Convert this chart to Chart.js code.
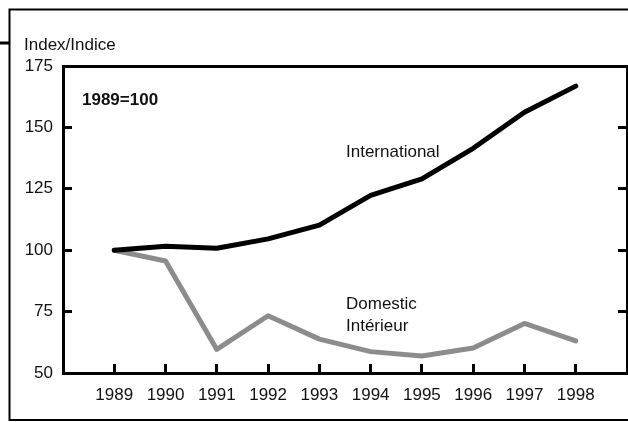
<!DOCTYPE html>
<html><head><meta charset="utf-8">
<script src="https://cdn.jsdelivr.net/npm/chart.js@4"></script>
<style>html,body{margin:0;padding:0;background:#fff;}#wrap{width:628px;height:422px;}</style>
</head><body><div id="wrap"><canvas id="c" width="628" height="422"></canvas></div>
<script>
const years = [1989, 1990, 1991, 1992, 1993, 1994, 1995, 1996, 1997, 1998];
const international = [100, 101.6, 100.8, 104.6, 110.2, 122.3, 129.0, 141.5, 156.2, 166.8];
const domestic = [100, 95.6, 59.6, 73.3, 63.8, 58.7, 56.9, 60.2, 70.2, 63.1];
const yTicks = [50, 75, 100, 125, 150, 175];
const seriesNames = ['International', 'Domestic'];
const domesticLabel = ['Domestic', 'Intérieur'];
const unitLabel = 'Index/Indice';
const baseLabel = '1989=100';

const FONT = '"Liberation Sans", Arial, sans-serif';
const TXT = '#111';

const framePlugin = {
  id: 'frame',
  beforeDraw(chart) {
    const ctx = chart.ctx;
    ctx.save();
    ctx.fillStyle = '#fff';
    ctx.fillRect(0, 0, chart.width, chart.height);
    ctx.strokeStyle = '#000';
    ctx.lineWidth = 2;
    ctx.beginPath();
    ctx.moveTo(640, 9.5);
    ctx.lineTo(9.5, 9.5);
    ctx.lineTo(9.5, 420);
    ctx.lineTo(640, 420);
    ctx.stroke();
    ctx.lineWidth = 3;
    ctx.beginPath();
    ctx.moveTo(0, 43);
    ctx.lineTo(10, 43);
    ctx.stroke();
    ctx.restore();
  },
  afterDatasetsDraw(chart) {
    const ctx = chart.ctx;
    const a = chart.chartArea;
    ctx.save();
    ctx.fillStyle = TXT;
    ctx.textAlign = 'left';
    ctx.textBaseline = 'middle';
    ctx.font = '17px ' + FONT;
    ctx.fillText(unitLabel, 24, 45);
    ctx.fillText(seriesNames[0], 346, 152);
    ctx.fillText(domesticLabel[0], 346, 304);
    ctx.fillText(domesticLabel[1], 346, 326);
    ctx.font = 'bold 17px ' + FONT;
    ctx.fillText(baseLabel, a.left + 19, 100);
    ctx.restore();
  }
};

new Chart(document.getElementById('c'), {
  type: 'line',
  data: {
    datasets: [
      {
        label: seriesNames[0],
        data: years.map((y, i) => ({x: y, y: international[i]})),
        borderColor: '#000', borderWidth: 5, pointRadius: 0,
        borderCapStyle: 'round', borderJoinStyle: 'round', tension: 0, fill: false
      },
      {
        label: seriesNames[1],
        data: years.map((y, i) => ({x: y, y: domestic[i]})),
        borderColor: '#8c8c8c', borderWidth: 5, pointRadius: 0,
        borderCapStyle: 'round', borderJoinStyle: 'round', tension: 0, fill: false
      }
    ]
  },
  options: {
    responsive: false,
    animation: false,
    devicePixelRatio: 1,
    layout: {padding: {left: 0, top: 66, right: 1, bottom: 0}},
    plugins: {legend: {display: false}, tooltip: {enabled: false}},
    scales: {
      x: {
        type: 'linear', position: 'bottom', min: 1988, max: 1999,
        afterBuildTicks: s => { s.ticks = years.map(v => ({value: v})); },
        afterFit: s => { s.height = 49; },
        ticks: {font: {size: 17, family: FONT}, color: TXT, padding: 21, maxRotation: 0, autoSkip: false,
                callback: v => String(v)},
        grid: {drawOnChartArea: false, drawTicks: true, tickLength: -9, color: '#000', lineWidth: 3},
        border: {display: true, color: '#000', width: 3}
      },
      xTop: {
        type: 'linear', position: 'top', min: 1988, max: 1999,
        afterFit: s => { s.height = 0; },
        ticks: {display: false},
        grid: {drawOnChartArea: false, drawTicks: false},
        border: {display: true, color: '#000', width: 3}
      },
      y: {
        position: 'left', min: 50, max: 175,
        afterBuildTicks: s => { s.ticks = yTicks.map(v => ({value: v})); },
        afterFit: s => { s.width = 63; },
        ticks: {font: {size: 17, family: FONT}, color: TXT, padding: 19},
        grid: {drawOnChartArea: false, drawTicks: true, tickLength: -9, color: '#000', lineWidth: 3},
        border: {display: true, color: '#000', width: 3}
      },
      yRight: {
        position: 'right', min: 50, max: 175,
        afterBuildTicks: s => { s.ticks = yTicks.map(v => ({value: v})); },
        afterFit: s => { s.width = 0; },
        ticks: {display: false},
        grid: {drawOnChartArea: false, drawTicks: true, tickLength: -9, color: '#000', lineWidth: 3},
        border: {display: true, color: '#000', width: 3}
      }
    }
  },
  plugins: [framePlugin]
});
</script>
</body></html>
